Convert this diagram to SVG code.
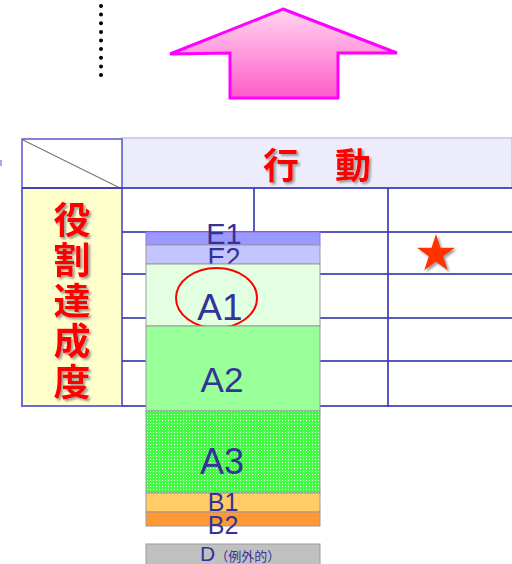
<svg xmlns="http://www.w3.org/2000/svg" width="512" height="564" viewBox="0 0 512 564">
<defs>
<linearGradient id="pinkGrad" x1="0" y1="0" x2="0" y2="1">
<stop offset="0" stop-color="#ffd6f0"/>
<stop offset="1" stop-color="#ff5cc8"/>
</linearGradient>
<pattern id="checkGreen" x="0" y="0" width="3" height="3" patternUnits="userSpaceOnUse">
<rect width="3" height="3" fill="#44fa44" shape-rendering="crispEdges"/>
<rect width="1" height="1" fill="#e6ffe6" shape-rendering="crispEdges"/>
</pattern>
<filter id="shadow" x="-20%" y="-20%" width="150%" height="150%">
<feDropShadow dx="2" dy="2" stdDeviation="0.8" flood-color="#888888" flood-opacity="0.8"/>
</filter>
</defs>
<style>
.grid{stroke:#3c3cb4;stroke-width:2;stroke-opacity:0.85;fill:none}
.redtxt{font-family:"Noto Sans CJK JP","Noto Sans CJK SC",sans-serif;font-weight:bold;fill:#ff0000;filter:url(#shadow)}
.lbl{font-family:"Liberation Sans",Arial,sans-serif;fill:#333399;text-anchor:middle}
.bar{stroke:#999999;stroke-width:1}
</style>

<g id="dotted-line" fill="#000000">
<circle cx="101" cy="6" r="2"/>
<circle cx="101" cy="14.6" r="2"/>
<circle cx="101" cy="23.2" r="2"/>
<circle cx="101" cy="31.9" r="2"/>
<circle cx="101" cy="40.5" r="2"/>
<circle cx="101" cy="49.1" r="2"/>
<circle cx="101" cy="57.8" r="2"/>
<circle cx="101" cy="66.4" r="2"/>
<circle cx="101" cy="75" r="2"/>
</g>

<g id="up-arrow">
<polygon points="283,9 397,53 338,53 338,98 230,98 230,53 170,54" fill="url(#pinkGrad)" stroke="#ff00ff" stroke-width="3" stroke-linejoin="miter"/>
</g>

<rect x="0" y="160" width="2" height="6" fill="#a8a8e8"/>

<g id="table">
<rect x="122" y="138" width="390" height="50" fill="#ececfb" stroke="#c4c4ec" stroke-width="1.5"/>
<rect x="22" y="139" width="100" height="49" fill="#ffffff" stroke="#5a5ad0" stroke-width="1.5"/>
<line x1="23" y1="140" x2="120" y2="188" stroke="#7a7a66" stroke-width="1.2"/>
<rect x="22" y="188" width="100" height="218" fill="#ffffcc" stroke="#6a6ad8" stroke-width="2"/>
<line class="grid" x1="22" y1="188" x2="512" y2="188"/>
<line class="grid" x1="254" y1="188" x2="254" y2="232"/>
<line class="grid" x1="388" y1="188" x2="388" y2="407"/>
<line class="grid" x1="122" y1="232" x2="512" y2="232"/>
<line class="grid" x1="122" y1="274" x2="512" y2="274"/>
<line class="grid" x1="122" y1="318" x2="512" y2="318"/>
<line class="grid" x1="122" y1="361" x2="512" y2="361"/>
<line class="grid" x1="122" y1="406" x2="512" y2="406"/>
</g>

<g id="header-action">
<text class="redtxt" x="263" y="179" font-size="36">行　動</text>
</g>

<g id="header-role">
<text class="redtxt" x="72" y="234" font-size="37" text-anchor="middle">役</text>
<text class="redtxt" x="72" y="274" font-size="37" text-anchor="middle">割</text>
<text class="redtxt" x="72" y="315" font-size="37" text-anchor="middle">達</text>
<text class="redtxt" x="72" y="355" font-size="37" text-anchor="middle">成</text>
<text class="redtxt" x="72" y="396" font-size="37" text-anchor="middle">度</text>
</g>

<g id="star">
<polygon points="436,234 440.49,247.82 455.02,247.82 443.27,256.36 447.76,270.18 436,261.64 424.24,270.18 428.73,256.36 416.98,247.82 431.51,247.82" fill="#ff3300" filter="url(#shadow)"/>
</g>

<g id="bar-E1">
<rect x="146" y="232" width="174" height="13" fill="#9999ff" stroke="#9a70f0" stroke-width="1"/>
<text class="lbl" x="224" y="244" font-size="29">E1</text>
</g>
<g id="bar-E2">
<rect class="bar" x="146" y="245" width="174" height="19" fill="#c4c4ff"/>
<text class="lbl" x="224" y="267" font-size="27">E2</text>
</g>
<g id="bar-A1">
<rect class="bar" x="146" y="264" width="174" height="62" fill="#e2ffe2"/>
<text class="lbl" x="220" y="320" font-size="37">A1</text>
<ellipse cx="216.5" cy="298" rx="40.5" ry="30" fill="none" stroke="#ff0000" stroke-width="2"/>
</g>
<g id="bar-A2">
<rect class="bar" x="146" y="326" width="174" height="85" fill="#99ff99"/>
<text class="lbl" x="222" y="392" font-size="35">A2</text>
</g>
<g id="bar-A3">
<rect class="bar" x="146" y="411" width="174" height="82" fill="url(#checkGreen)"/>
<text class="lbl" x="222" y="474" font-size="36">A3</text>
</g>
<g id="bar-B1">
<rect class="bar" x="146" y="493" width="174" height="19" fill="#ffcc66"/>
<text class="lbl" x="223" y="511" font-size="25">B1</text>
</g>
<g id="bar-B2">
<rect class="bar" x="146" y="512" width="174" height="14" fill="#ff9933"/>
<text class="lbl" x="223" y="534" font-size="25">B2</text>
</g>
<g id="bar-D">
<rect class="bar" x="146" y="544" width="174" height="22" fill="#c0c0c0"/>
<text x="200" y="561" font-family="'Liberation Sans','Noto Sans CJK JP',sans-serif" fill="#333399" font-size="21">D<tspan font-size="13" font-family="'Noto Sans CJK JP',sans-serif">（例外的）</tspan></text>
</g>
</svg>
